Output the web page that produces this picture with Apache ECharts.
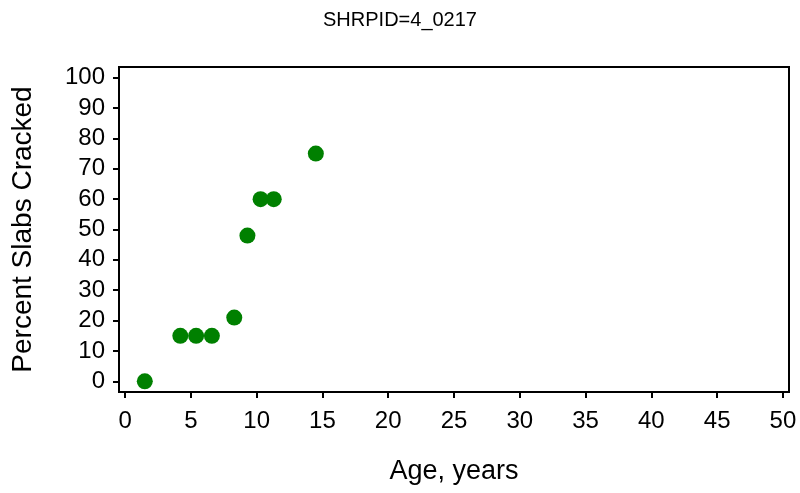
<!DOCTYPE html>
<html>
<head>
<meta charset="utf-8">
<script src="https://cdn.jsdelivr.net/npm/echarts@6/dist/echarts.min.js"></script>
<style>
  html, body { margin: 0; padding: 0; background: #fff; }
  #chart { width: 800px; height: 493px; }
</style>
</head>
<body>
<div id="chart"></div>
<script>
// data
var ageYears = [1.5, 4.2, 5.4, 6.6, 8.3, 9.3, 10.3, 11.3, 14.5];
var pctCracked = [0, 15, 15, 15, 21, 48, 60, 60, 75];
var xTicks = [0, 5, 10, 15, 20, 25, 30, 35, 40, 45, 50];
var yTicks = [0, 10, 20, 30, 40, 50, 60, 70, 80, 90, 100];

var points = ageYears.map(function (a, i) { return [a, pctCracked[i]]; });

var font = 'Liberation Sans, Arial, sans-serif';
var chart = echarts.init(document.getElementById('chart'));
chart.setOption({
  animation: false,
  title: {
    text: 'SHRPID=4_0217',
    left: 'center',
    top: 5,
    textStyle: { fontFamily: font, fontSize: 20, fontWeight: 'normal', color: '#000' }
  },
  grid: {
    left: 119, right: 11, top: 67, bottom: 101,
    show: true, borderColor: '#000', borderWidth: 2, backgroundColor: '#fff'
  },
  xAxis: {
    type: 'value',
    min: -0.46, max: 50.46,
    name: 'Age, years',
    nameLocation: 'middle',
    nameGap: 66,
    nameTextStyle: { fontFamily: font, fontSize: 27, color: '#000' },
    axisLine: { show: true, onZero: false, lineStyle: { color: '#000', width: 2 } },
    axisTick: { show: true, length: 6, lineStyle: { color: '#000', width: 2 }, customValues: xTicks },
    axisLabel: { fontFamily: font, fontSize: 24, color: '#000', margin: 17, customValues: xTicks },
    splitLine: { show: false }
  },
  yAxis: {
    type: 'value',
    min: -3.5, max: 103.5,
    name: 'Percent Slabs Cracked',
    nameLocation: 'middle',
    nameGap: 82,
    nameTextStyle: { fontFamily: font, fontSize: 28, color: '#000' },
    axisLine: { show: true, onZero: false, lineStyle: { color: '#000', width: 2 } },
    axisTick: { show: true, length: 6, lineStyle: { color: '#000', width: 2 }, customValues: yTicks },
    axisLabel: { fontFamily: font, fontSize: 24, color: '#000', margin: 14, customValues: yTicks },
    splitLine: { show: false }
  },
  series: [{
    type: 'scatter',
    data: points,
    symbol: 'circle',
    symbolSize: 16,
    itemStyle: { color: '#008000', opacity: 1 }
  }]
});
</script>
</body>
</html>
